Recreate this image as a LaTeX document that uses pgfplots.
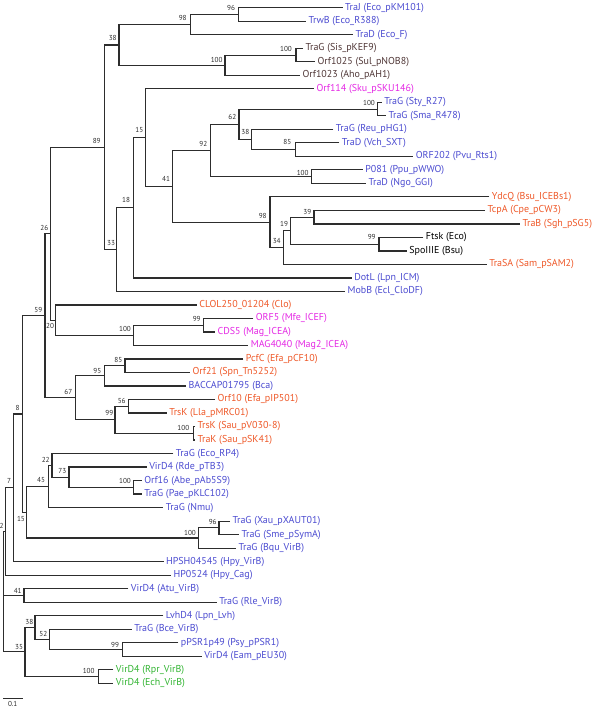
\documentclass[border=0pt]{standalone}
\usepackage{fontspec}
\setmainfont{PT Sans}
\usepackage{pgfplots}
\pgfplotsset{compat=1.18}
\definecolor{lblue}{RGB}{75,75,208}
\definecolor{lred}{RGB}{238,88,40}
\definecolor{lmag}{RGB}{228,40,228}
\definecolor{lgreen}{RGB}{50,180,50}
\definecolor{lbrown}{RGB}{80,55,55}
\definecolor{treec}{RGB}{45,45,45}
\begin{document}
\begin{tikzpicture}
\begin{axis}[
  scale only axis, width=592pt, height=709pt,
  xmin=0, xmax=592, ymin=0.42, ymax=52.914,
  y dir=reverse, hide axis, clip=false,
  unbounded coords=jump,
  leaf/.style={draw=none, mark=none, nodes near coords, point meta=explicit symbolic,
    every node near coord/.append style={anchor=west, inner sep=0pt, xshift=2.4pt, font=\fontsize{10}{11}\selectfont, text=#1}},
  boot/.style={draw=none, mark=none, nodes near coords, point meta=explicit symbolic,
    every node near coord/.append style={anchor=center, inner sep=0pt, font=\fontsize{7.2}{8}\selectfont, text=treec}},
]
% tree branches: each internal node drawn as a bracket (x in px, y in leaf rank)
\addplot[treec, line width=1.15pt, line join=miter] table {
x y
342.5 1
238.7 1
238.7 2
306 2
nan nan
238.7 1.5
190.7 1.5
190.7 3
353 3
nan nan
303 4
296 4
296 5
315 5
nan nan
296 4.5
225 4.5
225 6
300 6
nan nan
190.7 2.25
119 2.25
119 5.25
225 5.25
nan nan
381.7 8
377.7 8
377.7 9
386 9
nan nan
339.3 11
295.7 11
295.7 12
413.3 12
nan nan
333.3 10
251.7 10
251.7 11.5
295.7 11.5
nan nan
377.7 8.5
239 8.5
239 10.75
251.7 10.75
nan nan
362.7 13
311.7 13
311.7 14
366 14
nan nan
239 9.625
210.7 9.625
210.7 13.5
311.7 13.5
nan nan
485 16
314 16
314 17
520 17
nan nan
423.3 18
379 18
379 19
406.7 19
nan nan
314 16.5
290.7 16.5
290.7 18.5
379 18.5
nan nan
290.7 17.5
283.3 17.5
283.3 20
486.7 20
nan nan
489.3 15
270 15
270 18.75
283.3 18.75
nan nan
210.7 11.5625
172.7 11.5625
172.7 16.875
270 16.875
nan nan
314 7
145.7 7
145.7 14.21875
172.7 14.21875
nan nan
145.7 10.609375
133.3 10.609375
133.3 21
351.7 21
nan nan
133.3 15.8046875
116.7 15.8046875
116.7 22
345 22
nan nan
119 3.75
104.7 3.75
104.7 18.90234
116.7 18.90234
nan nan
253.3 24
203.3 24
203.3 25
215 25
nan nan
203.3 24.5
133.3 24.5
133.3 26
248.3 26
nan nan
196.7 23
55.3 23
55.3 25.25
133.3 25.25
nan nan
104.7 11.32617
50.7 11.32617
50.7 24.125
55.3 24.125
nan nan
243.3 27
125 27
125 28
190 28
nan nan
125 27.5
104.3 27.5
104.3 29
186 29
nan nan
215 30
128.3 30
128.3 31
166.7 31
nan nan
195 32
193.3 32
193.3 33
195 33
nan nan
128.3 30.5
115 30.5
115 32.5
193.3 32.5
nan nan
104.3 28.25
75.7 28.25
75.7 31.5
115 31.5
nan nan
50.7 17.72559
45 17.72559
45 29.875
75.7 29.875
nan nan
141.7 36
133.3 36
133.3 37
141.7 37
nan nan
146.7 35
69 35
69 36.5
133.3 36.5
nan nan
173.3 34
52 34
52 35.75
69 35.75
nan nan
52 34.875
48.7 34.875
48.7 38
163.3 38
nan nan
230 39
219 39
219 40
239 40
nan nan
219 39.5
198.3 39.5
198.3 41
236 41
nan nan
48.7 36.4375
26.7 36.4375
26.7 40.25
198.3 40.25
nan nan
45 23.80029
22.3 23.80029
22.3 38.34375
26.7 38.34375
nan nan
22.3 31.07202
13.3 31.07202
13.3 42
163.5 42
nan nan
13.3 36.53601
5.7 36.53601
5.7 43
171 43
nan nan
128.3 44
24 44
24 45
216.7 45
nan nan
178.3 48
122.7 48
122.7 49
201.7 49
nan nan
131.7 47
49.3 47
49.3 48.5
122.7 48.5
nan nan
163.3 46
35 46
35 47.75
49.3 47.75
nan nan
113.3 50
98.3 50
98.3 51
113.3 51
nan nan
35 46.875
25 46.875
25 50.5
98.3 50.5
nan nan
5.7 39.76801
3.3 39.76801
3.3 48.6875
25 48.6875
nan nan
3.3 44.5
24 44.5
};
% scale bar
\addplot[treec, line width=1.15pt] coordinates {(3.3,52.13) (22.7,52.13)};
\addplot[boot] coordinates {(12.7,52.57) [0.1]};

% leaf labels
\addplot[leaf=lblue] table[col sep=comma, meta=label] {
x,y,label
342.5,1,TraJ (Eco\_pKM101)
306,2,TrwB (Eco\_R388)
353,3,TraD (Eco\_F)
381.7,8,TraG (Sty\_R27)
386,9,TraG (Sma\_R478)
333.3,10,TraG (Reu\_pHG1)
339.3,11,TraD (Vch\_SXT)
413.3,12,ORF202 (Pvu\_Rts1)
362.7,13,P081 (Ppu\_pWWO)
366,14,TraD (Ngo\_GGI)
351.7,21,DotL (Lpn\_ICM)
345,22,MobB (Ecl\_CloDF)
186,29,BACCAP01795 (Bca)
173.3,34,TraG (Eco\_RP4)
146.7,35,VirD4 (Rde\_pTB3)
141.7,36,Orf16 (Abe\_pAb5S9)
141.7,37,TraG (Pae\_pKLC102)
163.3,38,TraG (Nmu)
230,39,TraG (Xau\_pXAUT01)
239,40,TraG (Sme\_pSymA)
236,41,TraG (Bqu\_VirB)
163.5,42,HPSH04545 (Hpy\_VirB)
171,43,HP0524 (Hpy\_Cag)
128.3,44,VirD4 (Atu\_VirB)
216.7,45,TraG (Rle\_VirB)
163.3,46,LvhD4 (Lpn\_Lvh)
131.7,47,TraG (Bce\_VirB)
178.3,48,pPSR1p49 (Psy\_pPSR1)
201.7,49,VirD4 (Eam\_pEU30)
};
\addplot[leaf=lbrown] table[col sep=comma, meta=label] {
x,y,label
303,4,TraG (Sis\_pKEF9)
315,5,Orf1025 (Sul\_pNOB8)
300,6,Orf1023 (Aho\_pAH1)
};
\addplot[leaf=black] table[col sep=comma, meta=label] {
x,y,label
423.3,18,Ftsk (Eco)
406.7,19,SpoIIIE (Bsu)
};
\addplot[leaf=lmag] table[col sep=comma, meta=label] {
x,y,label
314,7,Orf114 (Sku\_pSKU146)
253.3,24,ORF5 (Mfe\_ICEF)
215,25,CDS5 (Mag\_ICEA)
248.3,26,MAG4040 (Mag2\_ICEA)
};
\addplot[leaf=lred] table[col sep=comma, meta=label] {
x,y,label
489.3,15,YdcQ (Bsu\_ICEBs1)
485,16,TcpA (Cpe\_pCW3)
520,17,TraB (Sgh\_pSG5)
486.7,20,TraSA (Sam\_pSAM2)
196.7,23,CLOL250\_01204 (Clo)
243.3,27,PcfC (Efa\_pCF10)
190,28,Orf21 (Spn\_Tn5252)
215,30,Orf10 (Efa\_pIP501)
166.7,31,TrsK (Lla\_pMRC01)
195,32,TrsK (Sau\_pV030-8)
195,33,TraK (Sau\_pSK41)
};
\addplot[leaf=lgreen] table[col sep=comma, meta=label] {
x,y,label
113.3,50,VirD4 (Rpr\_VirB)
113.3,51,VirD4 (Ech\_VirB)
};

% bootstrap values (x and y in pixels of the figure)
\addplot[boot] table[x=x, y expr={(\thisrow{py}-4)/13.58+1}, meta=lab] {
x py lab
231 4.5 96
182.7 14 98
112.7 34 38
216.7 56 100
286 45 100
96.7 138 89
139.3 127.3 15
232.3 114 62
245.3 129 38
287.3 139.3 85
203.3 141.3 92
166 175.7 41
369 100 100
302.7 170 100
126 196.7 18
262.7 213.3 98
284 221.7 19
307.3 209 39
371.7 234.3 99
276.7 238.3 34
111 240.7 33
44.3 225 26
38.3 307.3 59
50 324 20
125 327.3 100
196.7 317.3 99
118.3 358.3 85
97.3 369 95
68.3 390 67
121.7 399.3 56
109.3 411.7 99
183.3 426.7 100
17.7 406 8
45.7 458.3 22
62.3 470 73
41 478.3 45
125 480 100
21 518.3 15
212.7 521.3 96
190 532.3 100
9 479.3 7
1.7 525 2
17.7 590 41
29.3 621.7 38
43.3 634 52
19 646.7 35
115 644.3 99
88.7 670.7 100
};
\end{axis}
\pgfresetboundingbox
\path (current axis.south west) rectangle (current axis.north east);
\end{tikzpicture}
\end{document}
